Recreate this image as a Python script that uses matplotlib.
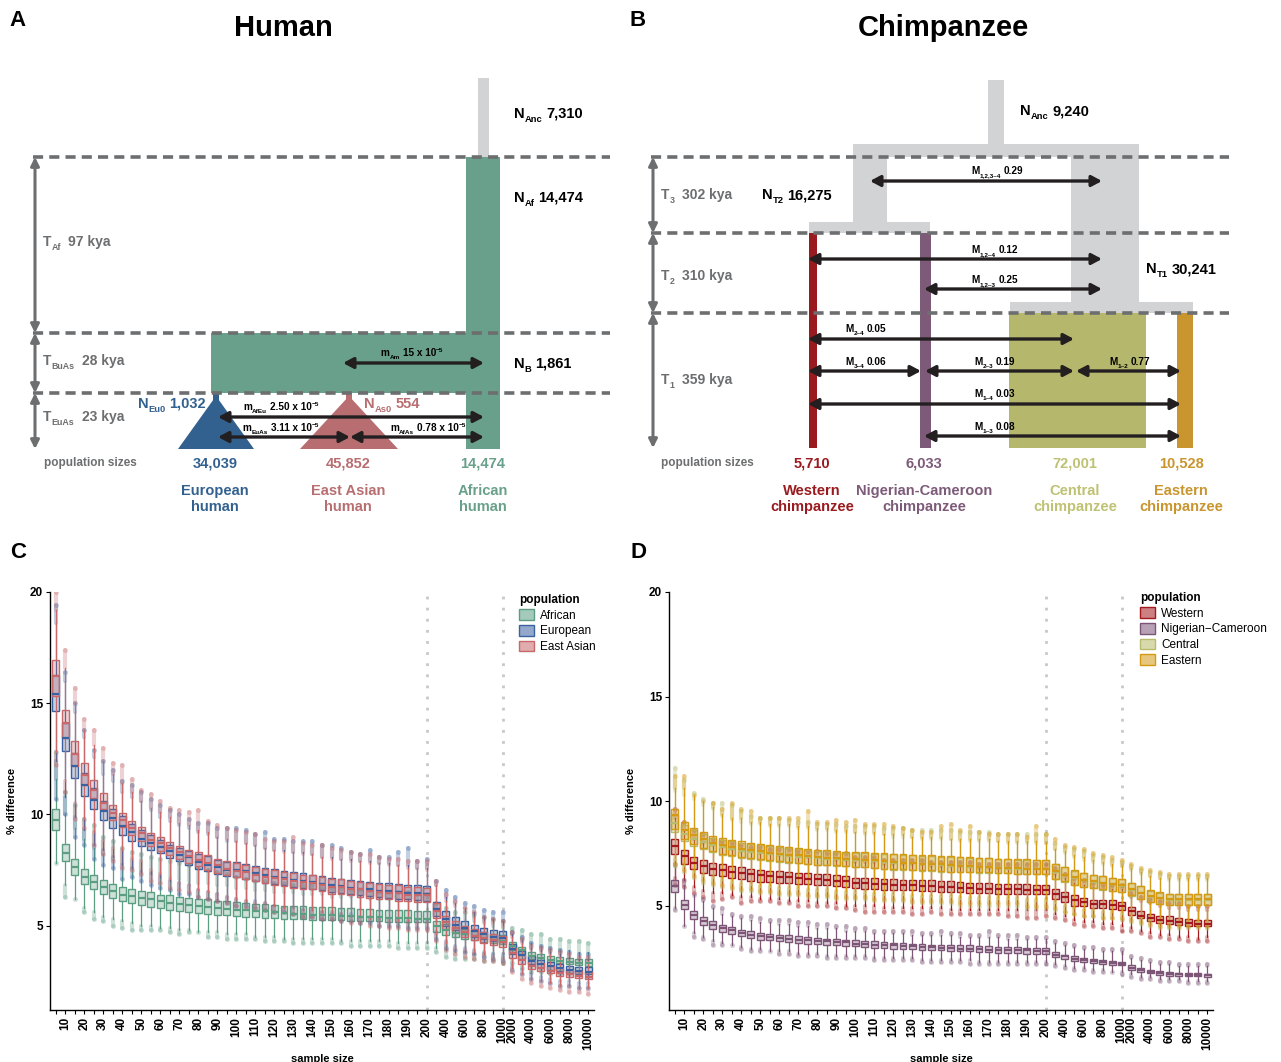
import matplotlib
matplotlib.use('Agg')
import matplotlib.pyplot as plt
from matplotlib.patches import Rectangle, Polygon, Patch
from matplotlib.colors import to_rgba

plt.rcParams['font.family'] = ['Liberation Sans', 'DejaVu Sans']

# ---------------- data for panels C and D ----------------
sample_sizes = list(range(5, 201, 5)) + list(range(300, 1001, 100)) + list(range(2000, 10001, 1000))
labelled = list(range(10, 201, 10)) + [400, 600, 800, 1000, 2000, 4000, 6000, 8000, 10000]

# human: African
af_q1 = [9.28,7.89,7.29,6.87,6.62,6.42,6.24,6.09,6.02,5.91, 5.84,5.79,5.72,5.64,5.61,5.57,5.54,5.49,5.46,5.42,
         5.40,5.38,5.36,5.34,5.31,5.30,5.28,5.27,5.26,5.25, 5.24,5.22,5.21,5.20,5.19,5.18,5.17,5.16,5.15,5.14,
         4.72,4.58,4.47,4.40,4.33,4.27,4.21,4.15, 3.90,3.72,3.50,3.43,3.36,3.30,3.26,3.22,3.20]
af_med = [9.76,8.26,7.62,7.20,6.95,6.72,6.57,6.39,6.32,6.24, 6.17,6.09,6.02,5.97,5.91,5.87,5.84,5.79,5.76,5.72,
          5.70,5.67,5.64,5.61,5.57,5.54,5.52,5.49,5.49,5.46, 5.45,5.42,5.40,5.39,5.37,5.36,5.34,5.34,5.31,5.30,
          4.97,4.82,4.67,4.60,4.52,4.45,4.37,4.30, 4.07,3.88,3.62,3.55,3.47,3.40,3.37,3.32,3.30]
af_q3 = [10.25,8.67,8.00,7.56,7.26,7.04,6.87,6.74,6.65,6.57, 6.50,6.39,6.35,6.29,6.24,6.20,6.17,6.12,6.09,6.05,
         6.02,5.98,5.96,5.93,5.90,5.88,5.86,5.84,5.83,5.82, 5.80,5.78,5.76,5.74,5.72,5.70,5.69,5.68,5.66,5.65,
         5.22,5.08,4.95,4.85,4.78,4.70,4.63,4.57, 4.25,4.05,3.80,3.72,3.64,3.58,3.54,3.50,3.48]
af_wlo = [7.8,6.8,6.2,5.8,5.6,5.4,5.3,5.2,5.1,5.0, 5.0,4.9,4.9,4.8,4.8,4.7,4.7,4.7,4.6,4.6,
          4.6,4.5,4.5,4.5,4.4,4.4,4.4,4.4,4.4,4.4, 4.3,4.3,4.3,4.3,4.3,4.3,4.2,4.2,4.2,4.2,
          4.0,3.9,3.8,3.8,3.7,3.7,3.7,3.6, 3.5,3.3,3.1,3.0,3.0,2.9,2.9,2.9,2.8]
af_whi = [11.6,10.0,9.4,8.9,8.5,8.2,8.0,7.8,7.6,7.5, 7.4,7.3,7.2,7.1,7.0,6.9,6.9,6.8,6.8,6.7,
          6.7,6.6,6.6,6.5,6.5,6.5,6.4,6.4,6.4,6.3, 6.3,6.3,6.3,6.2,6.2,6.2,6.2,6.2,6.1,6.1,
          5.7,5.6,5.4,5.3,5.2,5.1,5.0,4.9, 4.6,4.4,4.2,4.1,4.0,3.9,3.9,3.8,3.8]
af_flo = [7.8,6.3,6.2,5.6,5.3,5.2,5.0,4.9,4.8,4.8, 4.8,4.8,4.7,4.6,4.7,4.7,4.5,4.5,4.4,4.4,
          4.4,4.4,4.3,4.3,4.3,4.2,4.2,4.2,4.2,4.2, 4.2,4.1,4.1,4.1,4.1,4.1,4.0,4.0,4.0,4.0,
          3.8,3.6,3.5,3.5,3.5,3.4,3.4,3.3, 3.3,3.1,2.9,2.9,2.8,2.8,2.8,2.8,2.7]
af_fhi = [12.8,11.0,10.4,9.8,9.5,9.0,8.8,8.5,8.3,8.2, 8.1,8.0,7.9,7.8,7.7,7.6,7.5,7.4,7.3,7.2,
          7.1,7.0,7.0,6.9,6.9,6.8,6.8,6.8,6.7,6.7, 6.7,6.6,6.6,6.6,6.5,6.5,6.5,6.5,6.4,6.4,
          6.0,5.8,5.6,5.6,5.5,5.4,5.3,5.2, 4.9,4.8,4.6,4.6,4.4,4.4,4.3,4.3,4.2]

# human: European
eu_q1 = [14.66,12.83,11.63,10.81,10.25,9.76,9.39,9.06,8.79,8.56, 8.41,8.26,8.04,7.89,7.74,7.56,7.47,7.32,7.22,7.17,
         7.10,7.02,6.93,6.88,6.82,6.75,6.70,6.66,6.60,6.52, 6.48,6.42,6.36,6.32,6.28,6.25,6.20,6.17,6.14,6.12,
         5.45,4.97,4.78,4.62,4.50,4.40,4.30,4.25, 3.70,3.50,3.25,3.10,3.02,2.95,2.88,2.83,2.80]
eu_med = [15.43,13.43,12.16,11.33,10.66,10.16,9.84,9.46,9.21,8.91, 8.71,8.53,8.34,8.19,8.07,7.86,7.74,7.62,7.51,7.50,
          7.45,7.38,7.28,7.20,7.12,7.05,7.00,6.94,6.88,6.80, 6.76,6.70,6.66,6.62,6.57,6.54,6.50,6.47,6.45,6.42,
          5.75,5.30,5.04,4.89,4.75,4.60,4.49,4.45, 3.95,3.66,3.40,3.25,3.17,3.07,3.00,2.95,2.92]
eu_q3 = [16.27,14.10,12.75,11.86,11.18,10.58,10.25,9.91,9.57,9.31, 9.09,8.86,8.64,8.49,8.34,8.22,8.11,7.96,7.86,7.84,
         7.76,7.66,7.58,7.52,7.45,7.40,7.34,7.28,7.22,7.14, 7.10,7.06,7.00,6.96,6.92,6.90,6.86,6.82,6.80,6.77,
         6.05,5.64,5.37,5.19,5.04,4.90,4.82,4.75, 4.16,3.85,3.62,3.45,3.35,3.27,3.20,3.15,3.12]
eu_wlo = [12.4,10.8,9.9,9.3,8.6,8.4,8.1,7.7,7.6,7.4, 7.3,7.2,7.0,6.9,6.8,6.6,6.5,6.4,6.3,6.2,
          6.1,6.1,6.0,5.9,5.8,5.8,5.7,5.7,5.6,5.6, 5.5,5.5,5.4,5.4,5.3,5.3,5.3,5.2,5.2,5.2,
          4.7,4.3,4.1,4.0,3.9,3.8,3.7,3.7, 3.2,3.0,2.8,2.7,2.6,2.5,2.5,2.4,2.4]
eu_whi = [18.6,16.0,14.6,13.5,12.6,11.8,11.5,11.0,10.8,10.6, 10.2,9.9,9.7,9.5,9.4,9.2,9.1,9.0,8.8,8.8,
          8.7,8.6,8.5,8.4,8.4,8.3,8.3,8.2,8.1,8.1, 8.0,8.0,7.9,7.9,7.8,7.8,7.7,7.7,7.6,7.6,
          6.8,6.3,6.0,5.8,5.6,5.4,5.3,5.2, 4.6,4.3,4.0,3.9,3.8,3.7,3.6,3.5,3.5]
eu_flo = [10.7,10.0,9.0,8.6,8.0,7.7,7.6,7.1,7.2,7.0, 6.8,6.7,6.6,6.4,6.4,6.3,6.2,6.1,6.0,5.9,
          5.9,5.8,5.7,5.6,5.6,5.5,5.4,5.4,5.3,5.3, 5.2,5.2,5.1,5.1,5.0,5.0,5.0,4.9,4.9,4.9,
          4.4,4.0,3.9,3.8,3.7,3.6,3.5,3.4, 3.0,2.8,2.6,2.5,2.4,2.3,2.3,2.2,2.2]
eu_fhi = [19.4,16.4,15.0,13.8,12.9,12.4,12.0,11.5,11.3,11.0, 10.7,10.4,10.2,10.0,9.8,9.6,9.6,9.4,9.4,9.4,
          9.3,9.1,9.2,8.9,8.9,8.8,8.8,8.8,8.6,8.6, 8.5,8.3,8.2,8.4,8.1,8.1,8.3,8.5,7.9,8.0,
          7.0,6.6,6.3,6.0,5.9,5.7,5.6,5.6, 4.7,4.5,4.2,4.1,4.0,3.9,3.8,3.7,3.7]

# human: East Asian
ea_q1 = [15.31,13.43,12.16,11.33,10.73,10.25,9.76,9.42,9.09,8.82, 8.56,8.34,8.19,8.01,7.81,7.66,7.51,7.37,7.26,7.17,
         7.07,6.99,6.89,6.84,6.77,6.69,6.62,6.62,6.54,6.42, 6.42,6.35,6.29,6.24,6.20,6.17,6.12,6.09,6.07,6.05,
         5.35,4.85,4.65,4.50,4.35,4.20,4.12,4.05, 3.55,3.28,3.05,2.95,2.85,2.75,2.68,2.62,2.58]
ea_med = [16.20,14.09,12.71,11.78,11.11,10.51,10.06,9.76,9.39,9.16, 8.86,8.71,8.49,8.31,8.11,7.96,7.81,7.71,7.56,7.47,
          7.41,7.29,7.17,7.14,7.07,7.02,6.96,6.90,6.84,6.75, 6.72,6.66,6.62,6.57,6.51,6.47,6.44,6.39,6.39,6.35,
          5.67,5.15,4.89,4.70,4.55,4.42,4.33,4.25, 3.77,3.44,3.20,3.07,2.95,2.87,2.80,2.72,2.68]
ea_q3 = [16.96,14.70,13.31,12.31,11.53,10.96,10.43,10.06,9.69,9.43, 9.16,8.98,8.76,8.56,8.41,8.31,8.16,8.01,7.89,7.81,
         7.74,7.63,7.56,7.48,7.41,7.37,7.29,7.25,7.17,7.10, 7.07,7.02,6.95,6.92,6.87,6.84,6.80,6.74,6.72,6.70,
         6.00,5.45,5.20,5.00,4.85,4.70,4.60,4.52, 4.00,3.68,3.45,3.30,3.20,3.10,3.00,2.95,2.90]
ea_wlo = [12.8,11.5,10.5,9.8,9.2,8.8,8.5,8.4,8.0,7.9, 7.5,7.3,7.1,6.9,6.8,6.6,6.5,6.4,6.3,6.2,
          6.1,6.0,6.0,5.9,5.8,5.8,5.7,5.7,5.6,5.5, 5.5,5.4,5.4,5.3,5.3,5.2,5.2,5.2,5.1,5.1,
          4.6,4.2,4.0,3.9,3.8,3.7,3.6,3.5, 3.1,2.8,2.6,2.5,2.4,2.3,2.3,2.2,2.2]
ea_whi = [19.2,16.6,15.0,13.8,13.1,12.4,11.8,11.4,11.0,10.6, 10.3,10.1,9.9,9.6,9.5,9.3,9.2,9.0,8.9,8.8,
          8.7,8.6,8.5,8.4,8.3,8.3,8.2,8.2,8.1,8.0, 8.0,7.9,7.9,7.8,7.8,7.7,7.7,7.6,7.6,7.5,
          6.8,6.1,5.9,5.6,5.4,5.2,5.1,5.0, 4.5,4.2,3.9,3.8,3.7,3.6,3.5,3.4,3.4]
ea_flo = [12.2,11.0,9.8,9.4,8.6,8.2,7.9,7.6,7.5,7.3, 7.0,6.9,6.7,6.6,6.5,6.3,6.2,6.1,6.0,5.9,
          5.8,5.8,5.7,5.6,5.6,5.5,5.4,5.4,5.3,5.3, 5.2,5.1,5.1,5.0,5.0,4.9,4.9,4.8,4.8,4.8,
          4.3,3.9,3.7,3.6,3.5,3.4,3.4,3.3, 2.9,2.6,2.4,2.3,2.2,2.1,2.0,2.0,1.9]
ea_fhi = [20.0,17.4,15.7,14.3,13.8,13.0,12.3,12.2,11.6,11.1, 10.9,10.6,10.3,10.2,10.1,10.2,9.7,9.5,9.4,9.3,
          9.2,9.1,8.9,8.8,8.8,9.0,8.7,8.6,8.6,8.5, 8.4,8.3,8.2,8.2,8.1,8.0,8.0,7.9,7.9,7.9,
          7.0,6.4,6.1,5.8,5.6,5.4,5.3,5.2, 4.7,4.4,4.1,4.0,3.9,3.8,3.7,3.6,3.6]

# chimpanzee: Western
we_q1 = [7.48,7.00,6.76,6.57,6.47,6.41,6.33,6.28,6.16,6.12, 6.12,6.07,6.07,6.04,6.01,5.96,5.96,5.92,5.88,5.82,
         5.79,5.79,5.76,5.74,5.72,5.72,5.68,5.68,5.66,5.63, 5.63,5.61,5.60,5.60,5.56,5.56,5.55,5.53,5.53,5.53,
         5.33,5.19,5.00,4.96,4.88,4.88,4.85,4.80, 4.56,4.40,4.28,4.17,4.12,4.07,4.04,4.04,4.01]
we_med = [7.83,7.35,7.05,6.87,6.76,6.68,6.60,6.55,6.51,6.44, 6.41,6.38,6.36,6.33,6.28,6.25,6.22,6.19,6.16,6.08,
          6.08,6.04,6.01,6.00,5.98,5.98,5.92,5.92,5.88,5.87, 5.84,5.83,5.80,5.80,5.79,5.79,5.77,5.76,5.76,5.76,
          5.56,5.40,5.28,5.16,5.08,5.05,5.04,4.97, 4.72,4.52,4.41,4.32,4.25,4.20,4.16,4.12,4.12]
we_q3 = [8.20,7.64,7.32,7.19,7.05,7.00,6.89,6.84,6.76,6.71, 6.67,6.63,6.60,6.57,6.55,6.52,6.49,6.44,6.41,6.32,
         6.32,6.32,6.28,6.25,6.23,6.23,6.20,6.20,6.16,6.16, 6.12,6.09,6.08,6.08,6.04,6.04,6.03,6.01,6.00,6.00,
         5.80,5.64,5.48,5.36,5.28,5.24,5.24,5.19, 4.92,4.72,4.60,4.52,4.48,4.40,4.36,4.33,4.33]
we_wlo = [6.3,6.2,5.9,5.7,5.6,5.6,5.5,5.4,5.4,5.3, 5.3,5.3,5.2,5.2,5.2,5.1,5.1,5.1,5.0,5.0,
          5.0,5.0,4.9,4.9,4.9,4.9,4.9,4.9,4.9,4.8, 4.8,4.8,4.8,4.8,4.8,4.8,4.8,4.8,4.8,4.8,
          4.6,4.5,4.3,4.2,4.2,4.1,4.1,4.0, 3.9,3.8,3.7,3.6,3.6,3.5,3.5,3.4,3.5]
we_whi = [9.2,8.6,8.2,8.0,7.9,7.8,7.7,7.6,7.6,7.5, 7.5,7.4,7.4,7.4,7.3,7.3,7.3,7.2,7.2,7.1,
          7.1,7.1,7.0,7.0,7.0,7.0,7.0,6.9,6.9,6.9, 6.9,6.9,6.8,6.8,6.8,6.8,6.8,6.8,6.8,6.8,
          6.5,6.3,6.1,6.0,5.9,5.8,5.8,5.8, 5.4,5.2,5.1,5.0,4.9,4.9,4.8,4.8,4.8]
we_flo = [6.0,5.9,5.6,5.4,5.2,5.3,5.4,5.1,5.2,5.2, 5.2,5.1,5.1,5.0,5.0,5.0,5.0,4.9,4.9,4.8,
          4.7,4.7,4.7,4.7,4.7,4.6,4.6,4.7,4.6,4.6, 4.6,4.6,4.6,4.6,4.6,4.5,4.5,4.4,4.4,4.5,
          4.4,4.3,4.1,4.0,4.0,3.9,3.9,3.8, 3.8,3.7,3.5,3.5,3.4,3.4,3.3,3.3,3.3]
we_fhi = [9.6,9.0,8.6,8.4,8.2,8.1,8.0,7.9,7.8,7.8, 7.7,7.7,7.7,7.6,7.6,7.6,7.5,7.5,7.5,7.3,
          7.3,7.3,7.2,7.2,7.2,7.2,7.2,7.1,7.1,7.1, 7.1,7.1,7.0,7.0,7.0,7.0,7.0,7.0,7.0,7.0,
          6.8,6.5,6.3,6.2,6.1,6.0,6.0,6.0, 5.6,5.4,5.3,5.2,5.1,5.1,5.0,5.0,5.0]

# chimpanzee: Nigerian-Cameroon
nc_q1 = [5.64,4.81,4.36,4.09,3.88,3.73,3.65,3.53,3.45,3.37, 3.33,3.28,3.25,3.21,3.18,3.15,3.12,3.09,3.07,3.04,
         3.01,2.99,2.96,2.93,2.93,2.91,2.89,2.86,2.85,2.83, 2.81,2.80,2.78,2.77,2.75,2.73,2.72,2.70,2.69,2.69,
         2.53,2.45,2.35,2.29,2.24,2.19,2.14,2.13, 1.93,1.84,1.76,1.69,1.65,1.65,1.61,1.61,1.60]
nc_med = [5.93,5.04,4.56,4.28,4.08,3.92,3.81,3.69,3.61,3.53, 3.49,3.44,3.41,3.37,3.34,3.31,3.28,3.25,3.23,3.17,
          3.15,3.13,3.10,3.09,3.07,3.05,3.02,3.01,2.97,2.96, 2.94,2.93,2.91,2.89,2.88,2.86,2.86,2.85,2.81,2.81,
          2.65,2.56,2.45,2.40,2.33,2.29,2.25,2.22, 2.03,1.93,1.84,1.77,1.74,1.72,1.69,1.68,1.67]
nc_q3 = [6.20,5.24,4.76,4.44,4.25,4.08,3.97,3.85,3.77,3.69, 3.65,3.60,3.57,3.52,3.49,3.45,3.42,3.41,3.37,3.33,
         3.31,3.28,3.25,3.21,3.20,3.18,3.17,3.13,3.12,3.10, 3.09,3.09,3.05,3.04,3.02,3.01,3.01,2.99,2.96,2.96,
         2.77,2.65,2.57,2.49,2.45,2.40,2.35,2.32, 2.13,2.01,1.92,1.85,1.81,1.79,1.77,1.76,1.74]
nc_wlo = [4.9,4.0,3.7,3.5,3.3,3.2,3.1,3.0,2.9,2.9, 2.8,2.8,2.8,2.7,2.7,2.7,2.6,2.6,2.6,2.6,
          2.6,2.5,2.5,2.5,2.5,2.5,2.4,2.4,2.4,2.4, 2.4,2.4,2.3,2.3,2.3,2.3,2.3,2.3,2.3,2.3,
          2.2,2.1,2.0,2.0,1.9,1.9,1.8,1.8, 1.7,1.6,1.6,1.5,1.5,1.5,1.4,1.4,1.4]
nc_whi = [6.9,6.0,5.5,5.2,4.9,4.6,4.5,4.4,4.3,4.2, 4.2,4.1,4.1,4.0,4.0,3.9,3.9,3.9,3.8,3.8,
          3.8,3.7,3.7,3.7,3.7,3.6,3.6,3.6,3.6,3.6, 3.5,3.5,3.5,3.5,3.5,3.4,3.4,3.4,3.4,3.4,
          3.2,3.1,3.0,2.9,2.9,2.8,2.8,2.8, 2.5,2.4,2.3,2.2,2.2,2.1,2.1,2.1,2.1]
nc_flo = [4.8,4.0,3.5,3.4,3.1,3.1,3.1,2.9,2.8,2.8, 2.8,2.7,2.7,2.6,2.6,2.6,2.5,2.5,2.5,2.5,
          2.5,2.4,2.4,2.4,2.4,2.4,2.3,2.3,2.3,2.3, 2.3,2.2,2.2,2.2,2.2,2.2,2.2,2.2,2.2,2.2,
          2.1,2.0,1.9,1.9,1.8,1.8,1.8,1.7, 1.6,1.5,1.5,1.4,1.4,1.4,1.3,1.3,1.3]
nc_fhi = [7.0,6.2,5.5,5.3,5.0,4.9,4.6,4.5,4.5,4.4, 4.3,4.3,4.3,4.2,4.2,4.1,4.1,4.0,4.0,3.9,
          3.9,3.8,3.8,3.8,3.8,3.8,3.7,3.7,3.8,3.7, 3.7,3.6,3.6,3.8,3.6,3.6,3.6,3.5,3.5,3.5,
          3.3,3.2,3.1,3.0,3.0,2.9,2.9,2.9, 2.6,2.5,2.4,2.3,2.3,2.2,2.2,2.2,2.2]

# chimpanzee: Central
ce_q1 = [8.52,8.08,7.85,7.68,7.55,7.43,7.38,7.28,7.23,7.18, 7.13,7.08,7.05,7.02,6.98,6.93,6.93,6.90,6.87,6.82,
         6.82,6.78,6.75,6.72,6.72,6.70,6.67,6.67,6.62,6.60, 6.60,6.58,6.57,6.57,6.54,6.54,6.52,6.50,6.50,6.50,
         6.27,6.14,5.99,5.87,5.82,5.76,5.68,5.63, 5.47,5.31,5.15,5.07,5.02,5.02,5.02,5.02,5.02]
ce_med = [8.97,8.44,8.20,8.04,7.88,7.78,7.70,7.62,7.56,7.50, 7.45,7.41,7.37,7.34,7.30,7.27,7.24,7.21,7.18,7.18,
          7.16,7.13,7.10,7.05,7.02,7.02,6.97,6.97,6.94,6.90, 6.87,6.85,6.82,6.82,6.79,6.77,6.76,6.74,6.74,6.74,
          6.61,6.46,6.33,6.22,6.14,6.07,6.01,5.94, 5.75,5.59,5.43,5.34,5.27,5.27,5.27,5.27,5.27]
ce_q3 = [9.32,8.83,8.60,8.42,8.25,8.15,8.08,8.00,7.95,7.90, 7.83,7.78,7.75,7.70,7.67,7.62,7.60,7.57,7.52,7.53,
         7.53,7.48,7.48,7.45,7.43,7.40,7.37,7.37,7.34,7.32, 7.30,7.28,7.27,7.25,7.22,7.22,7.19,7.19,7.17,7.17,
         6.98,6.82,6.66,6.55,6.45,6.39,6.31,6.26, 6.06,5.91,5.70,5.62,5.54,5.54,5.54,5.54,5.54]
ce_wlo = [7.2,6.9,6.6,6.4,6.3,6.2,6.1,6.0,6.0,5.9, 5.9,5.8,5.8,5.8,5.7,5.7,5.7,5.6,5.6,5.6,
          5.6,5.5,5.5,5.5,5.5,5.4,5.4,5.4,5.4,5.4, 5.3,5.3,5.3,5.3,5.3,5.3,5.3,5.2,5.2,5.2,
          5.1,5.0,4.9,4.8,4.8,4.7,4.7,4.6, 4.5,4.4,4.3,4.2,4.2,4.2,4.2,4.2,4.2]
ce_whi = [10.5,10.3,10.1,9.8,9.6,9.3,9.1,9.0,8.9,8.9, 8.8,8.8,8.8,8.7,8.7,8.6,8.6,8.5,8.5,8.5,
          8.4,8.4,8.4,8.3,8.3,8.3,8.2,8.2,8.2,8.2, 8.1,8.1,8.1,8.1,8.1,8.0,8.0,8.0,8.0,8.0,
          7.7,7.5,7.3,7.2,7.1,7.0,6.9,6.9, 6.7,6.5,6.4,6.3,6.2,6.2,6.2,6.2,6.2]
ce_flo = [6.9,6.6,6.3,6.1,6.0,5.9,5.8,5.7,5.7,5.6, 5.6,5.5,5.5,5.5,5.4,5.4,5.4,5.3,5.3,5.3,
          5.3,5.2,5.2,5.2,5.2,5.1,5.1,5.1,5.1,5.1, 5.0,5.0,5.0,5.0,5.0,5.0,5.0,4.9,4.9,4.9,
          4.8,4.7,4.6,4.5,4.5,4.4,4.4,4.3, 4.2,4.1,4.0,3.9,3.9,3.9,3.9,3.9,3.9]
ce_fhi = [11.6,11.0,10.4,10.1,9.9,9.9,9.8,9.5,9.3,9.2, 9.2,9.2,9.1,9.0,9.0,8.9,8.9,8.9,8.8,8.8,
          8.8,8.8,8.7,8.7,8.7,8.6,8.6,8.6,8.6,8.6, 8.5,8.5,8.5,8.5,8.4,8.4,8.4,8.4,8.4,8.4,
          8.0,7.8,7.7,7.6,7.4,7.3,7.2,7.1, 6.9,6.7,6.6,6.5,6.4,6.4,6.4,6.4,6.4]

# chimpanzee: Eastern
es_q1 = [8.68,8.20,7.96,7.75,7.61,7.48,7.43,7.32,7.27,7.21, 7.16,7.11,7.08,7.05,7.00,6.95,6.95,6.92,6.89,6.84,
         6.84,6.80,6.77,6.74,6.74,6.72,6.69,6.69,6.64,6.61, 6.61,6.59,6.59,6.59,6.55,6.55,6.53,6.51,6.51,6.51,
         6.28,6.16,6.00,5.88,5.83,5.77,5.69,5.64, 5.48,5.32,5.16,5.08,5.03,5.03,5.03,5.03,5.03]
es_med = [9.32,8.63,8.36,8.17,7.99,7.88,7.80,7.72,7.64,7.59, 7.53,7.48,7.43,7.40,7.35,7.32,7.29,7.26,7.21,7.21,
          7.19,7.16,7.13,7.08,7.05,7.05,7.00,7.00,6.97,6.92, 6.89,6.87,6.84,6.84,6.81,6.79,6.78,6.76,6.76,6.76,
          6.63,6.48,6.35,6.24,6.16,6.09,6.03,5.96, 5.77,5.61,5.45,5.36,5.29,5.29,5.29,5.29,5.29]
es_q3 = [9.61,9.00,8.73,8.52,8.33,8.23,8.15,8.07,8.01,7.96, 7.88,7.83,7.80,7.75,7.72,7.67,7.64,7.61,7.56,7.56,
         7.56,7.51,7.51,7.48,7.46,7.43,7.40,7.40,7.37,7.35, 7.32,7.30,7.29,7.27,7.24,7.24,7.21,7.21,7.19,7.19,
         7.00,6.84,6.68,6.57,6.47,6.41,6.33,6.28, 6.08,5.93,5.72,5.64,5.56,5.56,5.56,5.56,5.56]
es_wlo = [7.3,7.0,6.7,6.5,6.4,6.3,6.2,6.1,6.1,6.0, 6.0,5.9,5.9,5.9,5.8,5.8,5.8,5.7,5.7,5.7,
          5.7,5.6,5.6,5.6,5.6,5.5,5.5,5.5,5.5,5.5, 5.4,5.4,5.4,5.4,5.4,5.4,5.4,5.3,5.3,5.3,
          5.2,5.0,4.9,4.8,4.8,4.7,4.7,4.7, 4.6,4.5,4.4,4.3,4.3,4.3,4.3,4.3,4.3]
es_whi = [10.6,10.6,10.3,10.0,9.7,9.4,9.2,9.2,9.0,9.0, 8.9,8.9,8.9,8.8,8.8,8.7,8.7,8.6,8.6,8.5,
          8.5,8.5,8.4,8.4,8.4,8.3,8.3,8.3,8.3,8.2, 8.2,8.2,8.2,8.2,8.1,8.1,8.1,8.1,8.1,8.0,
          7.7,7.6,7.4,7.3,7.2,7.1,7.0,6.9, 6.8,6.6,6.4,6.3,6.3,6.3,6.3,6.3,6.3]
es_flo = [7.0,6.7,6.4,6.2,6.1,6.0,5.9,5.8,5.8,5.7, 5.7,5.6,5.6,5.6,5.5,5.5,5.5,5.4,5.4,5.4,
          5.4,5.3,5.3,5.3,5.3,5.2,5.2,5.2,5.2,5.2, 5.1,5.1,5.1,5.1,5.1,5.1,5.1,5.0,5.0,5.0,
          4.9,4.7,4.6,4.5,4.5,4.4,4.4,4.4, 4.3,4.2,4.1,4.0,4.0,4.0,4.0,4.0,4.0]
es_fhi = [11.2,11.2,10.3,10.0,9.9,9.6,9.9,9.6,9.5,9.2, 9.2,9.2,9.2,9.2,9.5,9.0,9.0,9.1,9.0,9.1,
          8.9,8.9,8.9,8.8,8.7,8.6,8.5,8.5,8.8,8.9, 8.6,8.8,8.5,8.4,8.4,8.4,8.4,8.3,8.8,8.4,
          8.2,7.9,7.8,7.7,7.5,7.4,7.3,7.2, 7.0,6.8,6.7,6.6,6.5,6.5,6.5,6.5,6.5]

human_pops = ['African', 'European', 'East Asian']
human_cols = ['#5C9E82', '#3A62A0', '#C8686A']
human_data = [(af_q1, af_med, af_q3, af_wlo, af_whi, af_flo, af_fhi),
              (eu_q1, eu_med, eu_q3, eu_wlo, eu_whi, eu_flo, eu_fhi),
              (ea_q1, ea_med, ea_q3, ea_wlo, ea_whi, ea_flo, ea_fhi)]
chimp_pops = ['Western', 'Nigerian\u2212Cameroon', 'Central', 'Eastern']
chimp_cols = ['#A3191C', '#7D5577', '#B9BC6C', '#D49A14']
chimp_data = [(we_q1, we_med, we_q3, we_wlo, we_whi, we_flo, we_fhi),
              (nc_q1, nc_med, nc_q3, nc_wlo, nc_whi, nc_flo, nc_fhi),
              (ce_q1, ce_med, ce_q3, ce_wlo, ce_whi, ce_flo, ce_fhi),
              (es_q1, es_med, es_q3, es_wlo, es_whi, es_flo, es_fhi)]

W, H = 1281, 1062
fig = plt.figure(figsize=(W / 100, H / 100), dpi=100)
renderer = fig.canvas.get_renderer()

# ---------------- panels A and B: demographic diagrams ----------------
axd = fig.add_axes([0, 0, 1, 1])
axd.set_xlim(0, W)
axd.set_ylim(H, 0)
axd.axis('off')

GREY_BAR = '#D1D3D4'
DASH = '#6D6E70'
ARROW = '#231F20'
AF_C, EU_C, AS_C = '#69A08B', '#33618F', '#B86E70'
WE_C, NC_C, CE_C, ES_C = '#9A1B1F', '#7D5A78', '#B5B86C', '#C8952E'
CE_TXT = '#BFC173'


def rect(x, y, w, h, c):
    axd.add_patch(Rectangle((x, y), w, h, facecolor=c, edgecolor='none', zorder=1))


def dashed(x0, x1, y):
    axd.plot([x0, x1], [y, y], color=DASH, lw=2.6, ls=(0, (2.8, 1.7)), zorder=3,
             dash_capstyle='butt')


def harrow(x0, x1, y):
    axd.annotate('', xy=(x1, y), xytext=(x0, y), zorder=5,
                 arrowprops=dict(arrowstyle='<|-|>,head_length=0.6,head_width=0.32',
                                 color=ARROW, lw=2.4, shrinkA=0, shrinkB=0))


def varrow(x, y0, y1):
    axd.annotate('', xy=(x, y1), xytext=(x, y0), zorder=5,
                 arrowprops=dict(arrowstyle='<|-|>,head_length=0.5,head_width=0.25',
                                 color=DASH, lw=2.2, shrinkA=0, shrinkB=0))


def txt(x, y, s, c='black', size=10.5, ha='left', va='center', ls=1.2):
    axd.text(x, y, s, color=c, fontsize=size, ha=ha, va=va, fontweight='bold',
             linespacing=ls, zorder=6)


def sublabel(x, y, main, sub, rest, c='black', size=10.5, ha='left', sup=None, gap=0.38):
    # y is the baseline; subscript (and optional superscript) drawn smaller
    parts = [(main, size, 0, 0), (sub, size * 0.64, size * 0.38, size * gap), (rest, size, 0, 0)]
    if sup:
        parts.append((sup, size * 0.64, -size * 0.6, 0))
    objs = []
    for s, fs, dy, g in parts:
        t = axd.text(0, 0, s, color=c, fontsize=fs, fontweight='bold', ha='left',
                     va='baseline', zorder=6)
        objs.append((t, dy, g, t.get_window_extent(renderer).width))
    total = sum(w + g for _, _, g, w in objs)
    x0 = x - total / 2 if ha == 'center' else (x - total if ha == 'right' else x)
    for t, dy, g, w in objs:
        t.set_position((x0, y + dy))
        x0 += w + g


# human
rect(478, 78, 11, 79, GREY_BAR)
rect(466, 157, 34, 292, AF_C)
rect(211, 333, 289, 60, AF_C)
rect(213, 393, 6, 8, EU_C)
axd.add_patch(Polygon([(216, 396), (178, 449), (254, 449)], closed=True, facecolor=EU_C, edgecolor='none', zorder=1))
rect(346, 393, 6, 8, AS_C)
axd.add_patch(Polygon([(349, 396), (300, 449), (398, 449)], closed=True, facecolor=AS_C, edgecolor='none', zorder=1))
for y in [157, 333, 393]:
    dashed(33, 610, y)
varrow(35, 157, 333)
varrow(35, 333, 393)
varrow(35, 393, 449)
harrow(343, 484, 363)
harrow(218, 484, 417)
harrow(218, 350, 437)
harrow(350, 484, 437)

sublabel(43, 246, 'T', 'Af', '97 kya', DASH, 10, gap=0.75)
sublabel(43, 365, 'T', 'BuAs', '28 kya', DASH, 10, gap=0.75)
sublabel(43, 421, 'T', 'EuAs', '23 kya', DASH, 10, gap=0.75)
sublabel(514, 118, 'N', 'Anc', '7,310')
sublabel(514, 202, 'N', 'Af', '14,474')
sublabel(514, 368, 'N', 'B', '1,861')
sublabel(206, 408, 'N', 'Eu0', '1,032', EU_C, ha='right')
sublabel(364, 408, 'N', 'As0', '554', AS_C)
sublabel(412, 356, 'm', 'Am', '15 x 10', size=7.2, ha='center', sup='\u22125')
sublabel(281, 410, 'm', 'AfEu', '2.50 x 10', size=7.2, ha='center', sup='\u22125')
sublabel(281, 431, 'm', 'EuAs', '3.11 x 10', size=7.2, ha='center', sup='\u22125')
sublabel(428, 431, 'm', 'AfAs', '0.78 x 10', size=7.2, ha='center', sup='\u22125')
txt(44, 463, 'population sizes', DASH, 8.5)
txt(215, 463, '34,039', EU_C, ha='center')
txt(348, 463, '45,852', AS_C, ha='center')
txt(483, 463, '14,474', AF_C, ha='center')
txt(215, 499, 'European\nhuman', EU_C, ha='center')
txt(348, 499, 'East Asian\nhuman', AS_C, ha='center')
txt(483, 499, 'African\nhuman', AF_C, ha='center')

# chimpanzee
rect(988, 80, 16, 70, GREY_BAR)
rect(853, 144, 286, 13, GREY_BAR)
rect(853, 144, 34, 80, GREY_BAR)
rect(809, 222, 121, 11, GREY_BAR)
rect(1071, 144, 68, 160, GREY_BAR)
rect(1010, 302, 183, 11, GREY_BAR)
rect(809, 233, 8, 215, WE_C)
rect(920, 233, 11, 215, NC_C)
rect(1009, 313, 137, 135, CE_C)
rect(1177, 313, 16, 135, ES_C)
for y in [157, 233, 313]:
    dashed(651, 1229, y)
varrow(653, 157, 233)
varrow(653, 233, 313)
varrow(653, 313, 448)
harrow(870, 1102, 181)
harrow(808, 1102, 259)
harrow(924, 1102, 289)
harrow(808, 1074, 339)
harrow(808, 921, 371)
harrow(925, 1074, 371)
harrow(1076, 1181, 371)
harrow(808, 1181, 404)
harrow(924, 1181, 436)

sublabel(661, 199, 'T', '3', '302 kya', DASH, 10, gap=0.75)
sublabel(661, 280, 'T', '2', '310 kya', DASH, 10, gap=0.75)
sublabel(661, 384, 'T', '1', '359 kya', DASH, 10, gap=0.75)
sublabel(1020, 115, 'N', 'Anc', '9,240')
sublabel(762, 199, 'N', 'T2', '16,275')
sublabel(1146, 273, 'N', 'T1', '30,241')
for x, y, sub, val in [(997, 174, '1,2,3\u20134', '0.29'), (995, 253, '1,2\u20134', '0.12'),
                       (995, 283, '1,2\u20133', '0.25'), (866, 332, '2\u20134', '0.05'),
                       (866, 365, '3\u20134', '0.06'), (995, 365, '2\u20133', '0.19'),
                       (1130, 365, '1\u20132', '0.77'), (995, 397, '1\u20134', '0.03'),
                       (995, 430, '1\u20133', '0.08')]:
    sublabel(x, y, 'M', sub, val, size=7.2, ha='center')
txt(661, 463, 'population sizes', DASH, 8.5)
txt(812, 463, '5,710', WE_C, ha='center')
txt(924, 463, '6,033', NC_C, ha='center')
txt(1075, 463, '72,001', CE_TXT, ha='center')
txt(1181, 463, '10,528', ES_C, ha='center')
txt(812, 499, 'Western\nchimpanzee', WE_C, ha='center')
txt(924, 499, 'Nigerian-Cameroon\nchimpanzee', NC_C, ha='center')
txt(1075, 499, 'Central\nchimpanzee', CE_TXT, ha='center')
txt(1181, 499, 'Eastern\nchimpanzee', ES_C, ha='center')

# titles and panel letters
txt(283, 28, 'Human', size=21, ha='center')
txt(943, 28, 'Chimpanzee', size=21, ha='center')
for x, y, s in [(18, 20, 'A'), (638, 20, 'B'), (18, 553, 'C'), (638, 553, 'D')]:
    txt(x, y, s, size=16, ha='center')


# ---------------- panels C and D: boxplots ----------------
def draw_boxes(ax, data, cols):
    pos = list(range(len(sample_sizes)))
    for (q1, med, q3, wlo, whi, flo, fhi), col in zip(data, cols):
        pts = to_rgba(col, 0.3)
        for a, b in [(whi, fhi), (flo, wlo)]:
            lc = ax.vlines(pos, a, b, color=pts, lw=3.0, zorder=2)
            lc.set_capstyle('round')
        stats = [dict(med=m, q1=a, q3=b, whislo=lo, whishi=hi, fliers=[fl, fh])
                 for a, m, b, lo, hi, fl, fh in zip(q1, med, q3, wlo, whi, flo, fhi)]
        ax.bxp(stats, positions=pos, widths=0.72, patch_artist=True, showcaps=False,
               manage_ticks=False,
               boxprops=dict(facecolor=to_rgba(col, 0.3), edgecolor=col, linewidth=1.0),
               medianprops=dict(color=col, linewidth=1.6),
               whiskerprops=dict(color=col, linewidth=0.9),
               flierprops=dict(marker='o', markersize=3.6, markerfacecolor=pts,
                               markeredgecolor='none'))


def style_axis(ax, ylim):
    ax.set_xlim(-0.6, len(sample_sizes) - 0.4)
    ax.set_ylim(*ylim)
    for s in ['top', 'right']:
        ax.spines[s].set_visible(False)
    for s in ['left', 'bottom']:
        ax.spines[s].set_linewidth(1.0)
    ax.axvline(sample_sizes.index(200), color='#C8C8C8', lw=2.0, ls=(0, (1, 3)), zorder=0)
    ax.axvline(sample_sizes.index(1000), color='#C8C8C8', lw=2.0, ls=(0, (1, 3)), zorder=0)
    ax.set_xticks(range(len(sample_sizes)))
    ax.set_xticklabels([str(s) if s in labelled else '' for s in sample_sizes],
                       rotation=90, fontsize=8.5, fontweight='bold')
    ax.set_yticks([5, 10, 15, 20])
    ax.set_yticklabels(['5', '10', '15', '20'], fontsize=8.5, fontweight='bold')
    ax.tick_params(length=3, width=0.8, pad=2)
    ax.set_xlabel('sample size', fontsize=8, fontweight='bold', labelpad=3)
    ax.set_ylabel('% difference', fontsize=8, fontweight='bold', labelpad=9)


axC = fig.add_axes([50 / W, 52 / H, 544 / W, 418 / H])
draw_boxes(axC, human_data, human_cols)
style_axis(axC, (1.2, 20))

axD = fig.add_axes([669 / W, 52 / H, 544 / W, 418 / H])
draw_boxes(axD, chimp_data, chimp_cols)
style_axis(axD, (0, 20))


def legend(ax, pops, cols, x, y):
    handles = [Patch(facecolor=to_rgba(c, 0.55), edgecolor=c, lw=1.0, label=p) for p, c in zip(pops, cols)]
    ax.legend(handles=handles, title='population', loc='upper left', bbox_to_anchor=(x / W, 1 - y / H),
              bbox_transform=fig.transFigure, frameon=False, fontsize=8.5, alignment='left',
              title_fontproperties={'weight': 'bold', 'size': 8.5}, handlelength=1.3,
              handleheight=1.0, handletextpad=0.5, labelspacing=0.28, borderpad=0, borderaxespad=0)


legend(axC, human_pops, human_cols, 519, 594)
legend(axD, chimp_pops, chimp_cols, 1140, 592)

fig.savefig('out.png', dpi=100)
